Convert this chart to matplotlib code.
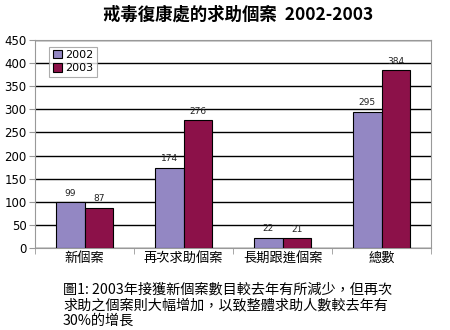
import matplotlib
matplotlib.use("Agg")
import matplotlib.pyplot as plt
import numpy as np

plt.rcParams['font.family'] = ['Noto Sans CJK TC', 'DejaVu Sans']

categories = ['新個案', '再次求助個案', '長期跟進個案', '總數']
cases_2002 = [99, 174, 22, 295]
cases_2003 = [87, 276, 21, 384]
years = ['2002', '2003']
y_ticks = list(range(0, 451, 50))

title = '戒毒復康處的求助個案  2002-2003'
caption = ('圖1: 2003年接獲新個案數目較去年有所減少，但再次\n'
           '求助之個案則大幅增加，以致整體求助人數較去年有\n'
           '30%的增長')

color_2002 = '#9387c3'
color_2003 = '#8c1149'
frame_gray = '#999999'

fig = plt.figure(figsize=(4.5, 3.3), dpi=100)
ax = fig.add_axes([0.078, 0.248, 0.88, 0.631])

x = np.arange(len(categories))
w = 0.29
b1 = ax.bar(x - w / 2, cases_2002, w, color=color_2002, edgecolor='black', linewidth=0.8,
            label=years[0], zorder=3)
b2 = ax.bar(x + w / 2, cases_2003, w, color=color_2003, edgecolor='black', linewidth=0.8,
            label=years[1], zorder=3)

for bars in (b1, b2):
    for r in bars:
        ax.text(r.get_x() + r.get_width() / 2, r.get_height() + 10, f'{int(r.get_height())}',
                ha='center', va='bottom', fontsize=6.5, family='DejaVu Sans', color='#222222')

ax.set_xlim(-0.5, len(categories) - 0.5)
ax.set_ylim(0, 450)
ax.set_yticks(y_ticks)
ax.yaxis.grid(True, color='black', linewidth=1.0, zorder=0)
ax.set_axisbelow(True)
ax.tick_params(axis='y', labelsize=8.5, length=4, color=frame_gray, pad=2)
for lbl in ax.get_yticklabels():
    lbl.set_family('DejaVu Sans')

# 分類標籤放在刻度中間，刻度線畫在分類之間
ax.set_xticks(x)
ax.set_xticklabels(categories, fontsize=9.5)
ax.tick_params(axis='x', length=0, pad=3)
ax.set_xticks(np.arange(-0.5, len(categories)), minor=True)
ax.tick_params(axis='x', which='minor', length=4, color=frame_gray)

for s in ax.spines.values():
    s.set_color(frame_gray)
    s.set_linewidth(0.8)

leg = ax.legend(loc='upper left', bbox_to_anchor=(0.022, 0.995), fontsize=8, frameon=True,
                fancybox=False, edgecolor=frame_gray, handlelength=0.8, handleheight=0.8,
                handletextpad=0.3, borderpad=0.3, labelspacing=0.3)
leg.get_frame().set_linewidth(0.8)
for t in leg.get_texts():
    t.set_family('DejaVu Sans')

fig.text(0.53, 0.955, title, ha='center', va='center', fontsize=12.5, fontweight='bold')
fig.text(0.14, 0.075, caption, ha='left', va='center', fontsize=10.2, linespacing=1.15)

fig.savefig('out.png', dpi=100, facecolor='white')
